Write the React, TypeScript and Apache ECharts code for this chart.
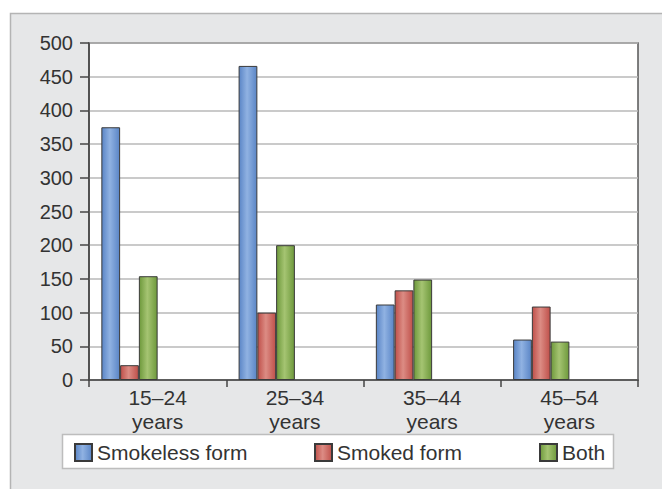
import React, { useEffect, useRef } from "react";
import * as echarts from "echarts";

const categories = ["15–24\nyears", "25–34\nyears", "35–44\nyears", "45–54\nyears"];
const seriesNames = ["Smokeless form", "Smoked form", "Both"];
const smokeless = [375, 466, 112, 60];
const smoked = [22, 100, 133, 109];
const both = [154, 200, 149, 57];
const yMin = 0;
const yMax = 500;
const yStep = 50;

const FONT = "'Liberation Sans', Arial, Helvetica, sans-serif";

function grad(edge: string, mid: string) {
  return new echarts.graphic.LinearGradient(0, 0, 1, 0, [
    { offset: 0, color: edge },
    { offset: 0.45, color: mid },
    { offset: 1, color: edge },
  ]);
}

export default function App() {
  const ref = useRef<HTMLDivElement>(null);
  useEffect(() => {
    if (!ref.current) return;
    const chart = echarts.init(ref.current, undefined, { renderer: "svg" });
    const colors = [
      grad("#5a85c6", "#90b2e2"),
      grad("#bf504a", "#dc8c84"),
      grad("#6e993c", "#a5c472"),
    ];
    const values = [smokeless, smoked, both];
    const real = seriesNames.map((n, i) => ({
      name: n,
      type: "bar",
      data: values[i],
      itemStyle: { color: colors[i], borderColor: "#3a3a3a", borderWidth: 1 },
    }));
    const ghosts = [0, 1, 2].map((i) => ({
      name: "ghost" + i,
      type: "bar",
      data: categories.map(() => null),
      itemStyle: { color: "transparent" },
    }));
    const legendPos = [74, 314, 539];
    const option: any = {
      animation: false,
      textStyle: { fontFamily: FONT },
      graphic: [
        {
          type: "rect",
          z: -100,
          shape: { x: 10.5, y: 13.5, width: 700, height: 520 },
          style: { fill: "#e6e7e8", stroke: "#b4b4b4", lineWidth: 1.5 },
        },
        {
          type: "rect",
          z: -50,
          shape: { x: 62.5, y: 434.5, width: 551, height: 34 },
          style: { fill: "#ffffff", stroke: "#bdbdbd", lineWidth: 1.5 },
        },
      ],
      grid: {
        left: 89,
        top: 43,
        right: 24,
        bottom: 109,
        show: true,
        backgroundColor: "#ffffff",
        borderColor: "#555555",
        borderWidth: 1.5,
      },
      legend: seriesNames.map((n, i) => ({
        data: [n],
        left: legendPos[i],
        top: 442,
        padding: 0,
        icon: "rect",
        itemWidth: 17,
        itemHeight: 17,
        selectedMode: false,
        textStyle: { fontSize: 21, color: "#333333", fontFamily: FONT },
      })),
      xAxis: {
        type: "category",
        data: categories,
        axisLine: { lineStyle: { color: "#444444", width: 1.5 } },
        axisTick: { show: true, alignWithLabel: false, length: 7, lineStyle: { color: "#444444", width: 1.5 } },
        axisLabel: {
          fontSize: 21,
          lineHeight: 24,
          color: "#333333",
          margin: 5,
          fontFamily: FONT,
        },
      },
      yAxis: {
        type: "value",
        min: yMin,
        max: yMax,
        interval: yStep,
        axisLine: { show: true, lineStyle: { color: "#444444", width: 1.5 } },
        axisTick: { show: true, length: 9, lineStyle: { color: "#444444", width: 1.5 } },
        axisLabel: { fontSize: 20, color: "#333333", margin: 16, fontFamily: FONT },
        splitLine: { lineStyle: { color: "#b8b8b8", width: 1.5 } },
      },
      series: [...real, ...ghosts].map((s: any) => ({
        ...s,
        barGap: "0%",
        barCategoryGap: "18%",
      })),
    };
    chart.setOption(option);
    return () => chart.dispose();
  }, []);
  return (
    <div
      ref={ref}
      style={{ position: "fixed", left: 0, top: 0, width: 662, height: 489, background: "#ffffff" }}
    />
  );
}
